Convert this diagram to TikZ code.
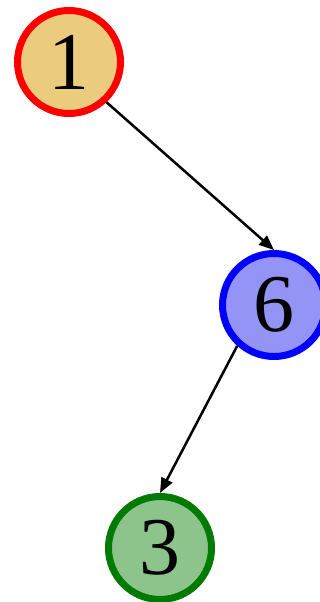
\documentclass[tikz,border=0pt]{standalone}
\usepackage{fontspec}
\setmainfont{Liberation Serif}
\usetikzlibrary{arrows.meta}
\definecolor{fillA}{HTML}{EBCB7E}
\definecolor{fillB}{HTML}{9494F6}
\definecolor{fillC}{HTML}{8CC48C}
\definecolor{bordB}{HTML}{0000FF}
\definecolor{bordC}{HTML}{007A00}
\tikzset{
  vert/.style={circle, line width=7pt, minimum size=103pt, inner sep=0pt,
    font=\fontsize{82}{82}\selectfont},
  conn/.style={line width=2.5pt, -{Triangle[length=15pt,width=12pt]}}
}
\begin{document}
\begin{tikzpicture}[x=1pt,y=-1pt]
\useasboundingbox (0,0) rectangle (320,602);
\node[vert, draw=red, fill=fillA] (n1) at (69,62) {1};
\node[vert, draw=bordB, fill=fillB] (n6) at (274,305) {6};
\node[vert, draw=bordC, fill=fillC] (n3) at (160,548) {3};
\draw[conn] (n1.-47) -- (n6.north);
\draw[conn] (n6.-132) -- (n3.north);
\end{tikzpicture}
\end{document}
